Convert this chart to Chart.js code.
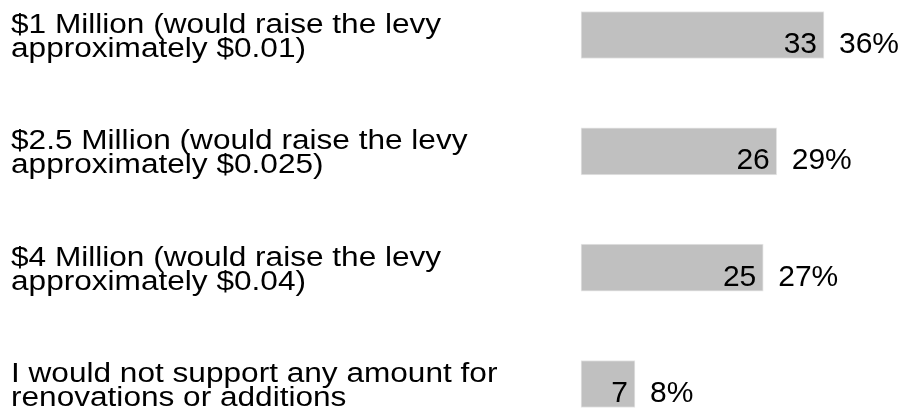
<!DOCTYPE html>
<html>
<head>
<meta charset="utf-8">
<script src="https://cdn.jsdelivr.net/npm/chart.js@4"></script>
<style>
  html, body { margin: 0; padding: 0; background: #ffffff; }
  #wrap { width: 905px; height: 417px; position: relative; }
</style>
</head>
<body>
<div id="wrap"><canvas id="c" width="905" height="417"></canvas></div>
<script>
const categories = [
  ["$1 Million (would raise the levy", "approximately $0.01)"],
  ["$2.5 Million (would raise the levy", "approximately $0.025)"],
  ["$4 Million (would raise the levy", "approximately $0.04)"],
  ["I would not support any amount for", "renovations or additions"]
];
const counts = [33, 26, 25, 7];
const percents = [36, 29, 27, 8];
const percentLabels = ["36%", "29%", "27%", "8%"];

const FONT = "'Liberation Sans', Arial, Helvetica, sans-serif";
const LABEL_STRETCH = 1.17;

const valueLabels = {
  id: 'valueLabels',
  afterLayout(chart) {
    const s = chart.scales.y;
    if (s && !s._stretched) {
      const orig = s.drawLabels.bind(s);
      s.drawLabels = function (area) {
        const ctx = this.ctx;
        ctx.save();
        ctx.translate(this.left, 2.5);
        ctx.scale(LABEL_STRETCH, 1);
        ctx.translate(-this.left, 0);
        orig(area);
        ctx.restore();
      };
      s._stretched = true;
    }
  },
  afterDatasetsDraw(chart) {
    const ctx = chart.ctx;
    const meta = chart.getDatasetMeta(0);
    ctx.save();
    ctx.font = "30px " + FONT;
    ctx.fillStyle = '#000000';
    ctx.textBaseline = 'alphabetic';
    meta.data.forEach((bar, i) => {
      const yb = bar.y + 18;
      ctx.textAlign = 'right';
      ctx.fillText(String(counts[i]), bar.x - 7, yb);
      ctx.textAlign = 'left';
      ctx.fillText(percentLabels[i], bar.x + 15, yb);
    });
    ctx.restore();
  }
};

new Chart(document.getElementById('c'), {
  type: 'bar',
  data: {
    labels: categories,
    datasets: [{
      data: percents,
      backgroundColor: '#c0c0c0',
      borderColor: '#e6e6e6',
      borderWidth: 1,
      borderSkipped: false,
      barThickness: 47,
      clip: false
    }]
  },
  options: {
    indexAxis: 'y',
    responsive: false,
    animation: false,
    layout: { padding: { left: 11, right: 0, top: 35, bottom: 33 } },
    plugins: { legend: { display: false }, tooltip: { enabled: false } },
    scales: {
      x: {
        display: false,
        min: 0,
        max: 48
      },
      y: {
        offset: false,
        grid: { display: false },
        border: { display: false },
        afterFit(scale) { scale.width = 570; },
        ticks: {
          crossAlign: 'far',
          color: '#000000',
          font: { family: FONT, size: 27, lineHeight: 24 / 27 }
        }
      }
    }
  },
  plugins: [valueLabels]
});
</script>
</body>
</html>
